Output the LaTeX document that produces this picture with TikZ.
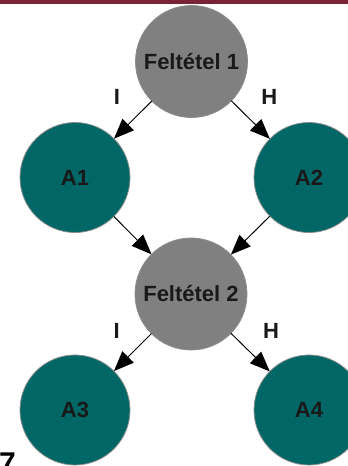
\documentclass[tikz,border=0pt]{standalone}
\usepackage{fontspec}
\setmainfont{Liberation Sans}
\usepackage{tikz}
\usepackage{xcolor}
\usetikzlibrary{arrows.meta, positioning}
\definecolor{Bar_Red}{HTML}{7A2337}
\definecolor{Cond_Gray}{HTML}{808080}
\definecolor{Act_Teal}{HTML}{006666}
\definecolor{Rim_Gray}{HTML}{8C8C8C}

\begin{document}
\begin{tikzpicture}[x=1pt, y=-1pt,
    cond/.style={circle, draw=Rim_Gray, line width=0.8pt, fill=Cond_Gray, minimum size=112pt, inner sep=0pt, outer sep=0pt, font=\bfseries\fontsize{22}{26}\selectfont, text=black!90},
    act/.style={cond, fill=Act_Teal, minimum size=110pt},
    flow/.style={-{Triangle[length=20pt, width=16pt]}, line width=1pt, black},
    branch/.style={font=\bfseries\fontsize{22}{26}\selectfont, text=black!90}]
    \useasboundingbox (0,0) rectangle (348,466);

    % Top bar
    \fill[Bar_Red] (0,0) rectangle (348,4);

    % Decision nodes
    \node[cond] (f1) at (191.5,61.5) {Feltétel 1};
    \node[cond] (f2) at (191,294) {Feltétel 2};

    % Action nodes
    \node[act] (a1) at (75,177.5) {A1};
    \node[act] (a2) at (309,177.5) {A2};
    \node[act] (a3) at (75,410) {A3};
    \node[act] (a4) at (309,410) {A4};

    \draw[flow] (f1) -- node[above left=12pt and 9pt, branch] {I} (a1);
    \draw[flow] (f1) -- node[above right=12pt and 7pt, branch] {H} (a2);
    \draw[flow] (a1) -- (f2);
    \draw[flow] (a2) -- (f2);
    \draw[flow] (f2) -- node[above left=10pt and 9pt, branch] {I} (a3);
    \draw[flow] (f2) -- node[above right=10pt and 9pt, branch] {H} (a4);

    % Page number, cut by the edge
    \node[anchor=north west, inner sep=0pt, font=\bfseries\fontsize{30}{36}\selectfont] (pg) at (-1,453) {7};
\end{tikzpicture}
\end{document}
